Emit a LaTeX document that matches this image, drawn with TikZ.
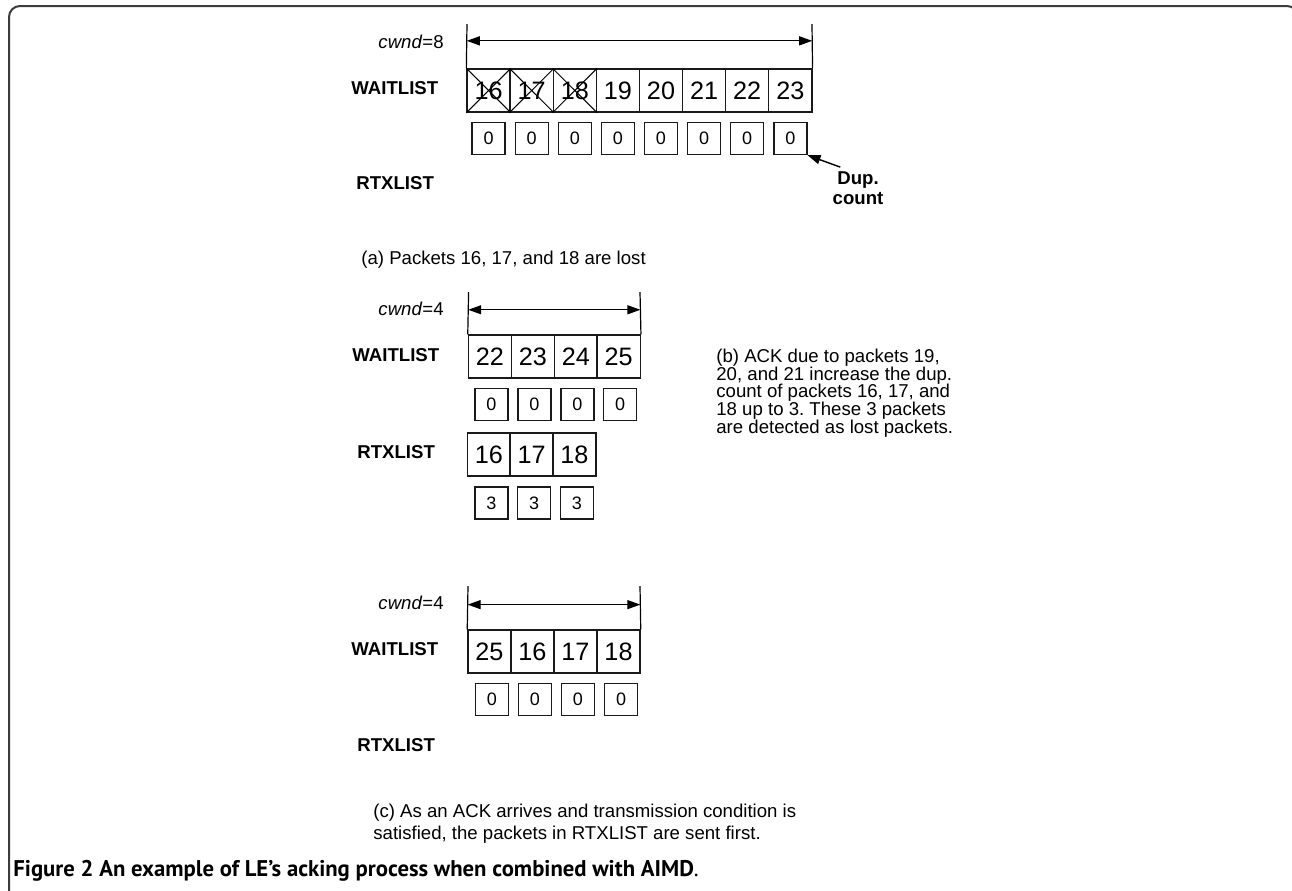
\documentclass[tikz,border=0pt]{standalone}
\usepackage{fontspec}
\setmainfont{Liberation Sans}
\newfontfamily\capfont{PT Sans}
\usetikzlibrary{positioning,calc,arrows.meta}
\definecolor{framec}{HTML}{3C3C3C}
\definecolor{boxc}{HTML}{1A1A1A}
\frenchspacing
\newcommand{\cwnd}[1]{\textit{cwnd}=#1}
\newcommand{\txtfont}[1]{\fontsize{9.3}{#1}\selectfont\lineskiplimit=-20pt\lineskip=0pt}
\tikzset{
  pkt/.style={draw=boxc, line width=0.7pt, minimum width=21.55pt, minimum height=21.5pt, inner sep=0pt, font=\fontsize{12.6}{14}\selectfont},
  dupbox/.style={draw=boxc, line width=0.7pt, minimum width=16.5pt, minimum height=16pt, inner sep=0pt, font=\fontsize{9}{10}\selectfont},
  lbl/.style={font=\txtfont{11}\bfseries, inner sep=0pt, anchor=west},
  cwlbl/.style={font=\txtfont{11}, inner sep=0pt, anchor=east},
  note/.style={font=\txtfont{#1}, inner sep=0pt, anchor=west, align=left},
  cwspan/.style={{Triangle[length=6.5pt,width=4.5pt]}-{Triangle[length=6.5pt,width=4.5pt]}, line width=0.6pt},
  tip/.style={-{Triangle[length=6.5pt,width=4.5pt]}, line width=0.7pt},
}

\begin{document}
\begin{tikzpicture}[x=0.5pt, y=-0.5pt]
 \useasboundingbox (0,0) rectangle (1292,890);
 \clip (0,0) rectangle (1292,890);
 \draw[framec, line width=1pt, rounded corners=5.5pt] (9,894) -- (9,6) -- (1298,6) -- (1298,60);
 % (a) packets 16-18 lost
 \foreach \n [count=\i from 0] in {16,...,23}{
   \node[pkt] (wa\i) at (488.6+43.1*\i, 90.5) {\n};
   \node[dupbox] (da\i) at (488.6+43.1*\i, 138.5) {0};}
 \foreach \i in {0,1,2}
   \draw[line width=0.5pt] (wa\i.north west) -- (wa\i.south east) (wa\i.north east) -- (wa\i.south west);
 \coordinate (tla) at (467,24); \coordinate (tra) at (812,24);
 \draw[line width=0.6pt] (wa0.north west) -- (tla) (wa7.north east) -- (tra);
 \draw[cwspan] ($(tla)!0.38!(wa0.north west)$) -- ($(tra)!0.38!(wa7.north east)$);
 \node[cwlbl] (cwa) at (444,42) {\cwnd{8}};
 \node[lbl] (wla) at (351,88) {WAITLIST};
 \node[lbl] (rla) at (356,183) {RTXLIST};
 \node[font=\txtfont{10}\bfseries, inner sep=0pt, align=center] (dupc) at (858,188) {Dup.\\count};
 \draw[tip] ([xshift=4pt,yshift=2pt]dupc.north west) -- (da7.south east);
 \node[note=11] (capa) at (361,260) {(a) Packets 16, 17, and 18 are lost};
 % (b) dup. count reaches 3
 \foreach \n [count=\i from 0] in {22,...,25}{
   \node[pkt] (wb\i) at (490+42.9*\i, 356.5) {\n};
   \node[dupbox] (db\i) at (491.5+42.9*\i, 404.5) {0};}
 \foreach \n [count=\i from 0] in {16,17,18}{
   \node[pkt] (rb\i) at (489+42.7*\i, 454.5) {\n};
   \node[dupbox] (xb\i) at (491.5+42.7*\i, 503) {3};}
 \coordinate (tlb) at (468.6,292); \coordinate (trb) at (640,292);
 \draw[line width=0.6pt] (wb0.north west) -- (tlb) (wb3.north east) -- (trb);
 \draw[cwspan] ($(tlb)!0.42!(wb0.north west)$) -- ($(trb)!0.42!(wb3.north east)$);
 \node[cwlbl] (cwb) at (444,309) {\cwnd{4}};
 \node[lbl] (wlb) at (352,355) {WAITLIST};
 \node[lbl] (rlb) at (357,452) {RTXLIST};
 \node[note=8.8] (capb) at (716,393) {(b) ACK due to packets 19,\\20, and 21 increase the dup.\\count of packets 16, 17, and\\18 up to 3. These 3 packets\\are detected as lost packets.};
 % (c) RTXLIST sent first
 \foreach \n [count=\i from 0] in {25,16,17,18}{
   \node[pkt] (wc\i) at (489.5+43*\i, 651.5) {\n};
   \node[dupbox] (dc\i) at (492+43*\i, 699.5) {0};}
 \coordinate (tlc) at (468,586); \coordinate (trc) at (640,586);
 \draw[line width=0.6pt] (wc0.north west) -- (tlc) (wc3.north east) -- (trc);
 \draw[cwspan] ($(tlc)!0.43!(wc0.north west)$) -- ($(trc)!0.43!(wc3.north east)$);
 \node[cwlbl] (cwc) at (444,603) {\cwnd{4}};
 \node[lbl] (wlc) at (351,649) {WAITLIST};
 \node[lbl] (rlc) at (357,745) {RTXLIST};
 \node[note=10.85] (capc) at (373,824) {(c) As an ACK arrives and transmission condition is\\satisfied, the packets in RTXLIST are sent first.};
 \node[font=\capfont\fontsize{11.35}{13}\selectfont, inner sep=0pt, anchor=west] (fig) at (13,871) {\textbf{Figure 2 An example of LE’s acking process when combined with AIMD}.};
\end{tikzpicture}
\end{document}
